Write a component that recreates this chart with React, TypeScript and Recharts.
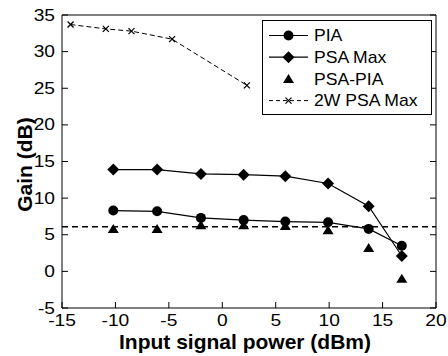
import React from 'react';
import { ComposedChart, Line, Scatter, XAxis, YAxis, ReferenceLine, Label, Legend } from 'recharts';

const FONT = '"Liberation Sans", Arial, Helvetica, sans-serif';

// input signal power (dBm) for the measured points
const INPUT_POWER = [-10.2, -6.1, -2, 2, 5.9, 9.9, 13.7, 16.8];
const PIA = [8.3, 8.2, 7.3, 7.0, 6.8, 6.7, 5.8, 3.5];
const PSA_MAX = [13.9, 13.9, 13.3, 13.2, 13.0, 12.0, 8.9, 2.1];
const PSA_MINUS_PIA = [5.8, 5.8, 6.3, 6.3, 6.2, 5.6, 3.2, -1.0];

// 2W pump case
const INPUT_POWER_2W = [-14.2, -10.9, -8.5, -4.7, 2.3];
const PSA_MAX_2W = [33.7, 33.1, 32.8, 31.7, 25.4];

const THRESHOLD = 6.1;

const X_TICKS = [-15, -10, -5, 0, 5, 10, 15, 20];
const Y_TICKS = [-5, 0, 5, 10, 15, 20, 25, 30, 35];
const LEGEND_ITEMS = ['PIA', 'PSA Max', 'PSA-PIA', '2W PSA Max'];

const TICK_LEN = 6;

const toPoints = (xs: number[], ys: number[]) => xs.map((x, i) => ({ x, y: ys[i] }));

const piaData = toPoints(INPUT_POWER, PIA);
const psaMaxData = toPoints(INPUT_POWER, PSA_MAX);
const diffData = toPoints(INPUT_POWER, PSA_MINUS_PIA);
const psa2wData = toPoints(INPUT_POWER_2W, PSA_MAX_2W);

const circleAt = (cx: number, cy: number, key?: any) => <circle key={key} cx={cx} cy={cy} r={5} fill="#000" />;
const diamondAt = (cx: number, cy: number, key?: any) => (
  <polygon key={key} points={`${cx},${cy - 6} ${cx + 6},${cy} ${cx},${cy + 6} ${cx - 6},${cy}`} fill="#000" />
);
const triangleAt = (cx: number, cy: number, key?: any) => (
  <polygon key={key} points={`${cx},${cy - 5} ${cx + 5.5},${cy + 4} ${cx - 5.5},${cy + 4}`} fill="#000" />
);
const crossAt = (cx: number, cy: number, key?: any) => (
  <g key={key} stroke="#000" strokeWidth={1.2}>
    <line x1={cx - 3} y1={cy - 3} x2={cx + 3} y2={cy + 3} />
    <line x1={cx - 3} y1={cy + 3} x2={cx + 3} y2={cy - 3} />
  </g>
);

// ticks point inward (matlab style), so tick marks are drawn here together with the labels
const BottomTick = ({ x, y, payload }: any) => (
  <g>
    <path d={`M${x},${y}V${y - TICK_LEN}`} stroke="#000" strokeWidth={1} fill="none" />
    <g transform={`translate(${x},${y}) scale(1.2,1)`}>
      <text x={0} y={0} dy={18} textAnchor="middle" fontSize={16} fill="#000" stroke="none" fontFamily={FONT}>
        {payload.value}
      </text>
    </g>
  </g>
);

const TopTick = ({ x, y }: any) => (
  <path d={`M${x},${y}V${y + TICK_LEN}`} stroke="#000" strokeWidth={1} fill="none" />
);

const LeftTick = ({ x, y, payload }: any) => (
  <g>
    <path d={`M${x},${y}H${x + TICK_LEN}`} stroke="#000" strokeWidth={1} fill="none" />
    <g transform={`translate(${x - 7},${y}) scale(1.2,1)`}>
      <text x={0} y={0} dy={5.5} textAnchor="end" fontSize={16} fill="#000" stroke="none" fontFamily={FONT}>
        {payload.value}
      </text>
    </g>
  </g>
);

const RightTick = ({ x, y }: any) => (
  <path d={`M${x},${y}H${x - TICK_LEN}`} stroke="#000" strokeWidth={1} fill="none" />
);

const renderLegend = () => (
  <svg width={170} height={95} style={{ display: 'block' }}>
    <rect x={0.5} y={0.5} width={169} height={94} fill="#fff" stroke="#000" />
    {LEGEND_ITEMS.map((name, i) => {
      const cy = 15.5 + i * 21.7;
      return (
        <g key={name}>
          {i < 2 && <line x1={7} y1={cy} x2={46} y2={cy} stroke="#000" strokeWidth={1.2} />}
          {i === 3 && <line x1={7} y1={cy} x2={46} y2={cy} stroke="#000" strokeWidth={1} strokeDasharray="4 3" />}
          {i === 0 && circleAt(26.5, cy)}
          {i === 1 && diamondAt(26.5, cy)}
          {i === 2 && triangleAt(26.5, cy)}
          {i === 3 && crossAt(26.5, cy)}
          <g transform={`translate(52,${cy}) scale(1.1,1)`}>
            <text x={0} y={0} dy={5.7} fontSize={16} fill="#000" fontFamily={FONT}>
              {name}
            </text>
          </g>
        </g>
      );
    })}
  </svg>
);

export default function App() {
  return (
    <div style={{ position: 'absolute', left: 0, top: 0, background: '#fff' }}>
      <ComposedChart width={448} height={356} margin={{ top: 14, right: 11, bottom: 0, left: 0 }}>
        <XAxis
          xAxisId="b"
          type="number"
          dataKey="x"
          domain={[-15, 20]}
          ticks={X_TICKS}
          interval={0}
          allowDataOverflow
          height={48}
          tickSize={0}
          tickMargin={0}
          tick={<BottomTick />}
          tickLine={false}
          axisLine={{ stroke: '#000' }}
        >
          <Label
            value="Input signal power (dBm)"
            position="insideBottom"
            offset={7.5}
            dx={-4}
            style={{ fontFamily: FONT, fontSize: 21, fontWeight: 700, fill: '#000' }}
          />
        </XAxis>
        <XAxis
          xAxisId="t"
          orientation="top"
          type="number"
          domain={[-15, 20]}
          ticks={X_TICKS}
          interval={0}
          allowDataOverflow
          height={1}
          tickSize={0}
          tickMargin={0}
          tick={<TopTick />}
          tickLine={false}
          axisLine={{ stroke: '#000' }}
        />
        <YAxis
          yAxisId="l"
          type="number"
          dataKey="y"
          domain={[-5, 35]}
          ticks={Y_TICKS}
          interval={0}
          allowDataOverflow
          width={62}
          tickSize={0}
          tickMargin={0}
          tick={<LeftTick />}
          tickLine={false}
          axisLine={{ stroke: '#000' }}
        >
          <Label
            value="Gain (dB)"
            angle={-90}
            position="center"
            dx={-6}
            dy={3}
            style={{ fontFamily: FONT, fontSize: 21, fontWeight: 700, fill: '#000', textAnchor: 'middle' }}
          />
        </YAxis>
        <YAxis
          yAxisId="r"
          orientation="right"
          type="number"
          domain={[-5, 35]}
          ticks={Y_TICKS}
          interval={0}
          allowDataOverflow
          width={1}
          tickSize={0}
          tickMargin={0}
          tick={<RightTick />}
          tickLine={false}
          axisLine={{ stroke: '#000' }}
        />

        <ReferenceLine xAxisId="b" yAxisId="l" y={THRESHOLD} stroke="#000" strokeWidth={1.6} strokeDasharray="6 4" />

        <Line
          xAxisId="b"
          yAxisId="l"
          data={psa2wData}
          dataKey="y"
          name="2W PSA Max"
          stroke="#000"
          strokeWidth={1}
          strokeDasharray="5 3"
          dot={(p: any) => crossAt(p.cx, p.cy, p.index)}
          activeDot={false}
          isAnimationActive={false}
        />
        <Line
          xAxisId="b"
          yAxisId="l"
          data={psaMaxData}
          dataKey="y"
          name="PSA Max"
          stroke="#000"
          strokeWidth={1.2}
          dot={(p: any) => diamondAt(p.cx, p.cy, p.index)}
          activeDot={false}
          isAnimationActive={false}
        />
        <Line
          xAxisId="b"
          yAxisId="l"
          data={piaData}
          dataKey="y"
          name="PIA"
          stroke="#000"
          strokeWidth={1.2}
          dot={(p: any) => circleAt(p.cx, p.cy, p.index)}
          activeDot={false}
          isAnimationActive={false}
        />
        <Scatter
          xAxisId="b"
          yAxisId="l"
          data={diffData}
          name="PSA-PIA"
          shape={(p: any) => triangleAt(p.cx, p.cy)}
          isAnimationActive={false}
        />

        <Legend
          layout="vertical"
          align="center"
          verticalAlign="middle"
          content={renderLegend}
          wrapperStyle={{ left: 262, top: 20, width: 170, height: 95 }}
        />
      </ComposedChart>
    </div>
  );
}
